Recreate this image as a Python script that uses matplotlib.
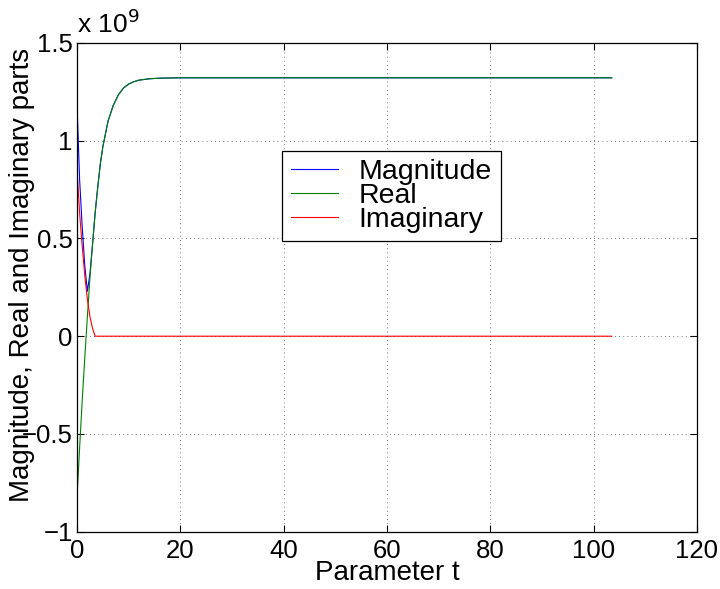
import matplotlib
matplotlib.use("Agg")
import matplotlib.pyplot as plt
from matplotlib.ticker import FixedLocator, FuncFormatter

# Values in units of 1e9
t_vals = [0, 0.5, 1, 1.5, 2, 2.5, 3, 3.5, 4, 4.5, 5, 6, 7, 8, 9, 10, 11, 12, 14, 16, 20, 103.5]
real_vals = [-0.82, -0.57, -0.33, -0.11, 0.10, 0.30, 0.47, 0.63, 0.76, 0.88, 0.97, 1.10, 1.18,
             1.235, 1.27, 1.29, 1.302, 1.31, 1.317, 1.32, 1.322, 1.322]
mag_vals = [1.18, 0.80, 0.56, 0.36, 0.23, 0.32, 0.47, 0.63, 0.76, 0.88, 0.97, 1.10, 1.18,
            1.235, 1.27, 1.29, 1.302, 1.31, 1.317, 1.32, 1.322, 1.322]
imag_vals = [0.85, 0.63, 0.46, 0.31, 0.19, 0.10, 0.04, 0.0, 0.0, 0.0, 0.0, 0.0, 0.0,
             0.0, 0.0, 0.0, 0.0, 0.0, 0.0, 0.0, 0.0, 0.0]
series_names = ["Magnitude", "Real", "Imaginary"]
x_ticks = [0, 20, 40, 60, 80, 100, 120]
y_ticks = [-1, -0.5, 0, 0.5, 1, 1.5]

plt.rcParams['font.family'] = ['Liberation Sans', 'DejaVu Sans']

fig = plt.figure(figsize=(7.2, 5.89), dpi=100)
ax = fig.add_axes([0.107, 0.0973, 0.861, 0.8297])

ax.plot(t_vals, mag_vals, color=(0, 0, 1), lw=0.8, label=series_names[0])
ax.plot(t_vals, real_vals, color=(0, 0.5, 0), lw=0.8, label=series_names[1])
ax.plot(t_vals, imag_vals, color=(1, 0, 0), lw=0.8, label=series_names[2])

ax.set_xlim(0, 120)
ax.set_ylim(-1, 1.5)
ax.xaxis.set_major_locator(FixedLocator(x_ticks))
ax.yaxis.set_major_locator(FixedLocator(y_ticks))

def yfmt(v, pos):
    s = ('%g' % v)
    return s.replace('-', '\u2212')
ax.yaxis.set_major_formatter(FuncFormatter(yfmt))

ax.grid(True, color='black', linestyle=(0, (1, 4)), linewidth=0.6, alpha=0.7)
ax.tick_params(direction='in', top=True, right=True, length=5, width=0.8,
               labelsize=18.5)
ax.tick_params(axis='x', pad=5)
ax.tick_params(axis='y', pad=3)
for sp in ax.spines.values():
    sp.set_linewidth(0.9)

ax.set_xlabel("Parameter t", fontsize=20)
ax.xaxis.set_label_coords(0.5, -0.058)
ax.set_ylabel("Magnitude, Real and Imaginary parts", fontsize=20)
ax.yaxis.set_label_coords(-0.068, 0.525)

ax.text(0.0, 1.01, "x 10$^{9}$", transform=ax.transAxes, fontsize=19,
        ha='left', va='bottom')

leg = ax.legend(loc='upper left', bbox_to_anchor=(0.3306, 0.7796), fontsize=20.5,
                frameon=True, fancybox=False, edgecolor='black', framealpha=1,
                borderpad=0.3, labelspacing=-0.08, handlelength=1.65, handletextpad=0.75,
                borderaxespad=0)
leg.get_frame().set_linewidth(0.9)

fig.savefig("out.png", dpi=100)
